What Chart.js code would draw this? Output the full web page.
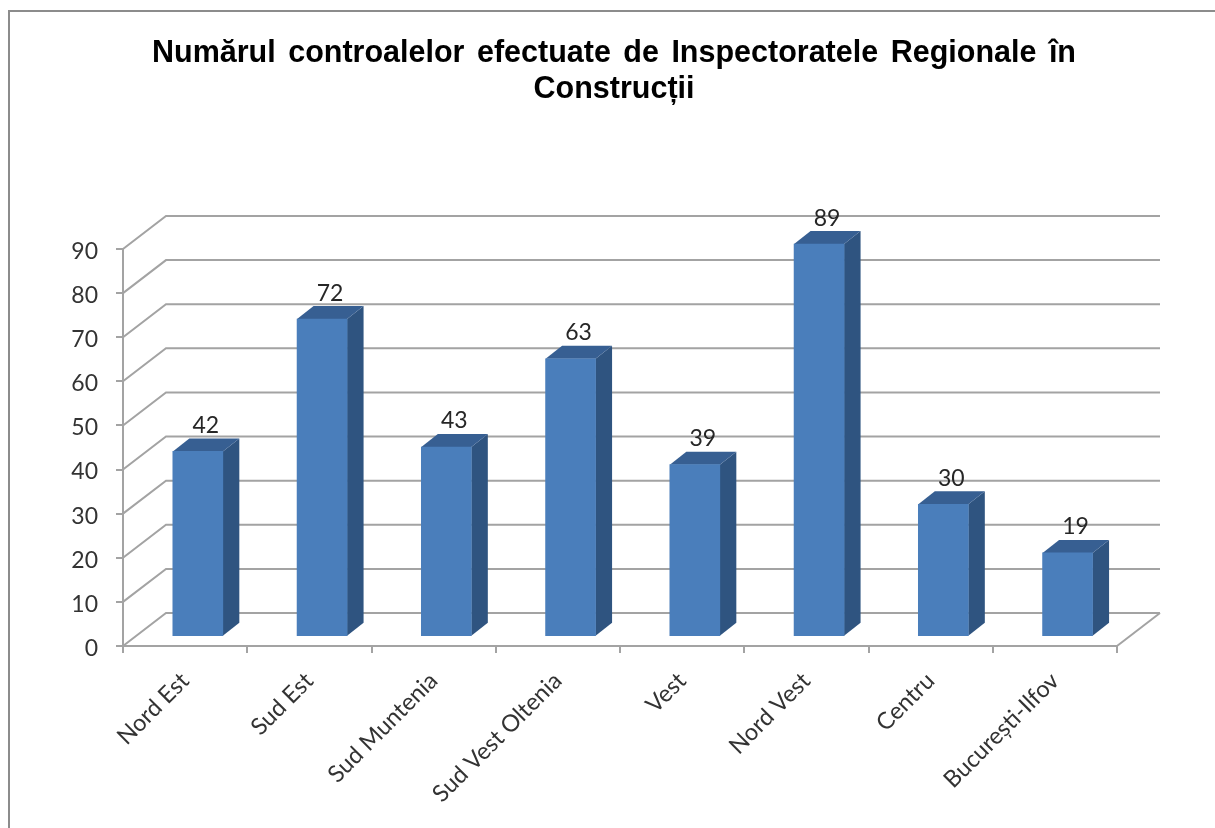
<!DOCTYPE html>
<html lang="ro">
<head>
<meta charset="utf-8">
<title>Numărul controalelor</title>
<script src="https://cdn.jsdelivr.net/npm/chart.js@4"></script>
<style>
    html, body { margin: 0; padding: 0; background: #fff; overflow: hidden; }
    #wrap { position: relative; width: 1215px; height: 828px; }
    #frame { position: absolute; left: 8px; top: 10px; right: 0; bottom: 0; border-left: 2px solid #8c8c8c; border-top: 2px solid #8c8c8c; }
    canvas { position: absolute; left: 0; top: 0; }
</style>
</head>
<body>
<div id="wrap">
    <div id="frame"></div>
    <canvas id="chart" width="1215" height="828"></canvas>
</div>
<script>
var titleLines = ['Numărul controalelor efectuate de Inspectoratele Regionale în', 'Construcții'];
var categories = ['Nord Est', 'Sud Est', 'Sud Muntenia', 'Sud Vest Oltenia', 'Vest', 'Nord Vest', 'Centru', 'București-Ilfov'];
var values = [42, 72, 43, 63, 39, 89, 30, 19];

var labelFont = 'Lato, "Open Sans", sans-serif';
var gridColor = '#a3a3a3';

// fake 3D: back wall offset and where the bars sit inside the depth
var wallDx = 43, wallDy = 33;
var barDx = 12.7, barDy = 9.3;
var sideDx = 16.5, sideDy = 13;

var fake3d = {
    id: 'fake3d',
    afterLayout: function (chart) {
        // the title has wider gaps between words than the font gives
        var block = chart.titleBlock;
        if (block && !block.wrapped) {
            var drawTitle = block.draw;
            block.draw = function () {
                chart.ctx.wordSpacing = '4px';
                drawTitle.apply(block, arguments);
                chart.ctx.wordSpacing = '0px';
            };
            block.wrapped = true;
        }
        // Lato sits a bit high on the middle baseline
        var y = chart.scales.y;
        if (!y.wrapped) {
            var drawLabels = y.drawLabels;
            y.drawLabels = function () {
                chart.ctx.save();
                chart.ctx.translate(0, 2.5);
                drawLabels.apply(y, arguments);
                chart.ctx.restore();
            };
            y.wrapped = true;
        }
    },
    beforeDatasetsDraw: function (chart) {
        var ctx = chart.ctx;
        var y = chart.scales.y;
        var area = chart.chartArea;

        // wall lines and the diagonals going back from the axis
        ctx.save();
        ctx.strokeStyle = gridColor;
        ctx.lineWidth = 2;
        y.ticks.forEach(function (t) {
            var py = y.getPixelForValue(t.value);
            ctx.beginPath();
            ctx.moveTo(area.left, py);
            ctx.lineTo(area.left + wallDx, py - wallDy);
            ctx.lineTo(area.right + wallDx, py - wallDy);
            ctx.stroke();
        });
        // floor edge on the right
        ctx.beginPath();
        ctx.moveTo(area.right, y.getPixelForValue(0));
        ctx.lineTo(area.right + wallDx, y.getPixelForValue(0) - wallDy);
        ctx.stroke();

        // side and top of the bars
        ctx.translate(barDx, -barDy);
        chart.getDatasetMeta(0).data.forEach(function (bar) {
            var r = bar.x + bar.width / 2;
            var l = bar.x - bar.width / 2;
            ctx.fillStyle = '#2f5480';
            ctx.beginPath();
            ctx.moveTo(r, bar.y);
            ctx.lineTo(r + sideDx, bar.y - sideDy);
            ctx.lineTo(r + sideDx, bar.base - sideDy);
            ctx.lineTo(r, bar.base);
            ctx.closePath();
            ctx.fill();
            ctx.fillStyle = '#375f92';
            ctx.beginPath();
            ctx.moveTo(l, bar.y);
            ctx.lineTo(l + sideDx, bar.y - sideDy);
            ctx.lineTo(r + sideDx, bar.y - sideDy);
            ctx.lineTo(r, bar.y);
            ctx.closePath();
            ctx.fill();
        });
        ctx.restore();

        // front faces are drawn by chart.js, shifted the same way
        ctx.save();
        ctx.translate(barDx, -barDy);
    },
    afterDatasetsDraw: function (chart) {
        var ctx = chart.ctx;
        ctx.restore();

        ctx.save();
        ctx.fillStyle = '#262626';
        ctx.font = '23px ' + labelFont;
        ctx.textAlign = 'center';
        ctx.textBaseline = 'middle';
        chart.getDatasetMeta(0).data.forEach(function (bar, i) {
            ctx.fillText(values[i], bar.x + barDx + 8, bar.y - barDy - 26);
        });
        ctx.restore();
    }
};

new Chart(document.getElementById('chart'), {
    type: 'bar',
    data: {
        labels: categories,
        datasets: [{
            data: values,
            backgroundColor: '#4a7ebb',
            borderWidth: 0,
            barThickness: 50
        }]
    },
    options: {
        responsive: false,
        animation: false,
        layout: { padding: { left: 13, right: 0, top: 0, bottom: 0 } },
        plugins: {
            legend: { display: false },
            tooltip: { enabled: false },
            title: {
                display: true,
                text: titleLines,
                color: '#000',
                font: { family: '"Liberation Sans", Arial, sans-serif', size: 30.5, weight: 'bold', lineHeight: 1.18 },
                padding: { top: 36, bottom: 141 }
            }
        },
        scales: {
            x: {
                grid: { drawOnChartArea: false, color: gridColor, lineWidth: 2, tickLength: 7 },
                border: { color: gridColor, width: 2 },
                ticks: {
                    color: '#333',
                    font: { family: labelFont, size: 23.5 },
                    minRotation: 45,
                    maxRotation: 45,
                    autoSkip: false,
                    padding: 14
                },
                afterFit: function (axis) { axis.height = 182; }
            },
            y: {
                min: 0,
                max: 90,
                grid: { drawOnChartArea: false, color: gridColor, lineWidth: 2, tickLength: 7 },
                border: { color: gridColor, width: 2 },
                ticks: {
                    stepSize: 10,
                    color: '#333',
                    font: { family: labelFont, size: 23 },
                    padding: 18
                },
                afterFit: function (axis) { axis.width = 110; }
            },
            // empty axis, only keeps the room on the right of the plot
            spacer: {
                type: 'linear',
                position: 'right',
                grid: { display: false },
                border: { display: false },
                ticks: { display: false },
                afterFit: function (axis) { axis.width = 98; }
            }
        }
    },
    plugins: [fake3d]
});
</script>
</body>
</html>
